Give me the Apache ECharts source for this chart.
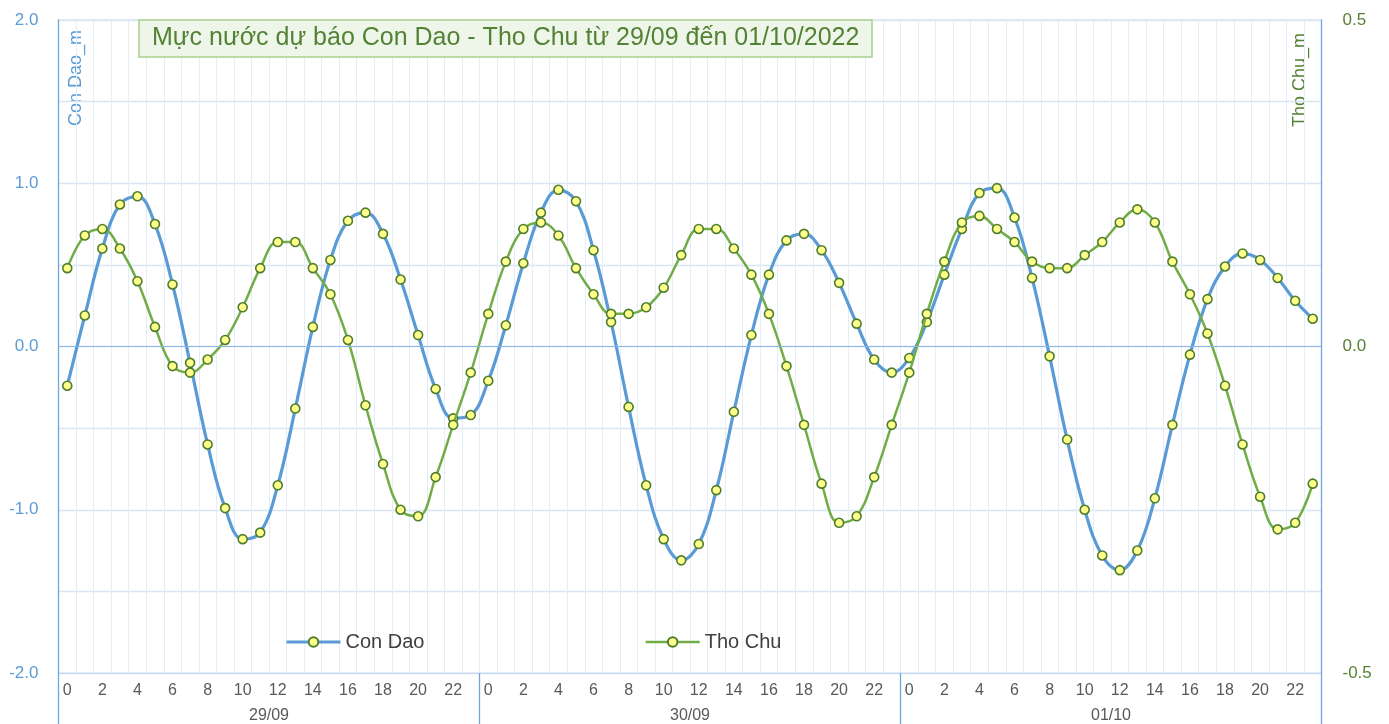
<!DOCTYPE html>
<html>
<head>
<meta charset="utf-8">
<title>Mực nước dự báo Con Dao - Tho Chu</title>
<script src="https://cdn.jsdelivr.net/npm/echarts@6/dist/echarts.min.js"></script>
<style>
  html, body { margin: 0; padding: 0; background: #fff; }
  #chart { width: 1389px; height: 724px; }
</style>
</head>
<body>
<div id="chart"></div>
<script>
// ngay va gio
var days = ['29/09', '30/09', '01/10'];
var hours = ['0','1','2','3','4','5','6','7','8','9','10','11','12','13','14','15','16','17','18','19','20','21','22','23'];

// muc nuoc Con Dao (m) - truc trai
var conDao = [
  -0.24, 0.19, 0.60, 0.87, 0.92, 0.75, 0.38, -0.10, -0.60, -0.99, -1.18, -1.14,
  -0.85, -0.38, 0.12, 0.53, 0.77, 0.82, 0.69, 0.41, 0.07, -0.26, -0.44, -0.42,
  -0.21, 0.13, 0.51, 0.82, 0.96, 0.89, 0.59, 0.15, -0.37, -0.85, -1.18, -1.31,
  -1.21, -0.88, -0.40, 0.07, 0.44, 0.65, 0.69, 0.59, 0.39, 0.14, -0.08, -0.16,
  -0.07, 0.15, 0.44, 0.72, 0.94, 0.97, 0.79, 0.42, -0.06, -0.57, -1.00, -1.28,
  -1.37, -1.25, -0.93, -0.48, -0.05, 0.29, 0.49, 0.57, 0.53, 0.42, 0.28, 0.17
];

// muc nuoc Tho Chu (m) - truc phai
var thoChu = [
  0.12, 0.17, 0.18, 0.15, 0.10, 0.03, -0.03, -0.04, -0.02, 0.01, 0.06, 0.12,
  0.16, 0.16, 0.12, 0.08, 0.01, -0.09, -0.18, -0.25, -0.26, -0.20, -0.12, -0.04,
  0.05, 0.13, 0.18, 0.19, 0.17, 0.12, 0.08, 0.05, 0.05, 0.06, 0.09, 0.14,
  0.18, 0.18, 0.15, 0.11, 0.05, -0.03, -0.12, -0.21, -0.27, -0.26, -0.20, -0.12,
  -0.04, 0.05, 0.13, 0.19, 0.20, 0.18, 0.16, 0.13, 0.12, 0.12, 0.14, 0.16,
  0.19, 0.21, 0.19, 0.13, 0.08, 0.02, -0.06, -0.15, -0.23, -0.28, -0.27, -0.21
];

var categories = [];
for (var d = 0; d < days.length; d++) {
  for (var h = 0; h < hours.length; h++) {
    categories.push(days[d] + ' ' + hours[h]);
  }
}

var FONT = 'Liberation Sans, Arial, sans-serif';
var myChart = echarts.init(document.getElementById('chart'));

var markerStyle = {
  color: '#ffff8c',
  borderColor: '#4f7d2c',
  borderWidth: 1.6
};

var option = {
  backgroundColor: '#ffffff',
  animation: false,
  title: {
    text: 'Mực nước dự báo Con Dao - Tho Chu từ 29/09 đến 01/10/2022',
    left: 139,
    top: 20,
    padding: [5, 13, 5, 13],
    backgroundColor: '#eef6ea',
    borderColor: '#a9d18e',
    borderWidth: 1.5,
    textStyle: {
      fontFamily: FONT,
      fontSize: 25,
      fontWeight: 'normal',
      color: '#548235',
      lineHeight: 27
    }
  },
  legend: {
    data: [
      { name: 'Con Dao', lineStyle: { width: 3 } },
      { name: 'Tho Chu', lineStyle: { width: 2.5 } }
    ],
    left: 280,
    top: 627,
    itemWidth: 54,
    itemHeight: 12,
    itemGap: 220,
    textStyle: { fontFamily: FONT, fontSize: 20, color: '#404040' }
  },
  grid: {
    left: 58.5,
    right: 67.5,
    top: 20,
    bottom: 51,
    show: true,
    borderColor: '#c6d9f0',
    borderWidth: 1,
    outerBoundsMode: 'none'
  },
  xAxis: [
    {
      type: 'category',
      data: categories,
      boundaryGap: true,
      axisLine: { show: false },
      axisTick: { show: false },
      axisLabel: {
        interval: 1,
        margin: 10,
        fontFamily: FONT,
        fontSize: 16,
        color: '#595959',
        formatter: function (v) { return v.split(' ')[1]; }
      },
      splitLine: { show: true, interval: 0, lineStyle: { color: '#e4ecf7', width: 1 } }
    },
    {
      type: 'category',
      data: days,
      position: 'bottom',
      boundaryGap: true,
      axisLine: { show: true, onZero: false, lineStyle: { color: '#c6d9f0', width: 1 } },
      axisTick: { show: true, inside: false, alignWithLabel: false, interval: 0, length: 52, lineStyle: { color: '#6fa6dc', width: 1.3 } },
      axisLabel: { margin: 35, fontFamily: FONT, fontSize: 16, color: '#595959' },
      splitLine: { show: false }
    }
  ],
  yAxis: [
    {
      type: 'value',
      min: -2,
      max: 2,
      interval: 0.5,
      axisLine: { show: true, lineStyle: { color: '#6fa6dc', width: 1.3 } },
      axisTick: { show: false },
      axisLabel: {
        margin: 20,
        fontFamily: FONT,
        fontSize: 17,
        color: '#5b9bd5',
        formatter: function (v) { return Math.abs(v % 1) < 1e-9 ? v.toFixed(1) : ''; }
      },
      splitLine: { show: true, lineStyle: { color: '#dce6f2', width: 1.3 } }
    },
    {
      type: 'value',
      min: -0.5,
      max: 0.5,
      interval: 0.5,
      position: 'right',
      axisLine: { show: true, lineStyle: { color: '#6fa6dc', width: 1.3 } },
      axisTick: { show: false },
      axisLabel: {
        margin: 21,
        fontFamily: FONT,
        fontSize: 17,
        color: '#548235',
        formatter: function (v) { return v.toFixed(1); }
      },
      splitLine: { show: false }
    }
  ],
  graphic: [
    {
      type: 'text',
      x: 76,
      y: 30,
      rotation: Math.PI / 2,
      style: {
        text: 'Con Dao_m',
        font: '18px "Liberation Sans", Arial, sans-serif',
        fill: '#5b9bd5',
        align: 'right',
        verticalAlign: 'middle'
      }
    },
    {
      type: 'text',
      x: 1300,
      y: 33,
      rotation: Math.PI / 2,
      style: {
        text: 'Tho Chu_m',
        font: '18px "Liberation Sans", Arial, sans-serif',
        fill: '#548235',
        align: 'right',
        verticalAlign: 'middle'
      }
    }
  ],
  series: [
    {
      name: 'Con Dao',
      type: 'line',
      xAxisIndex: 0,
      yAxisIndex: 0,
      data: conDao,
      smooth: 0.4,
      symbol: 'circle',
      symbolSize: 9,
      showAllSymbol: true,
      lineStyle: { color: '#5b9bd5', width: 3.2 },
      itemStyle: markerStyle,
      markLine: {
        silent: true,
        symbol: ['none', 'none'],
        label: { show: false },
        lineStyle: { color: '#8db4e2', width: 1, type: 'solid' },
        data: [{ yAxis: 0 }]
      },
      z: 3
    },
    {
      name: 'Tho Chu',
      type: 'line',
      xAxisIndex: 0,
      yAxisIndex: 1,
      data: thoChu,
      smooth: 0.4,
      symbol: 'circle',
      symbolSize: 9,
      showAllSymbol: true,
      lineStyle: { color: '#70ad47', width: 2.5 },
      itemStyle: markerStyle,
      z: 4
    }
  ]
};
myChart.setOption(option);
</script>
</body>
</html>
